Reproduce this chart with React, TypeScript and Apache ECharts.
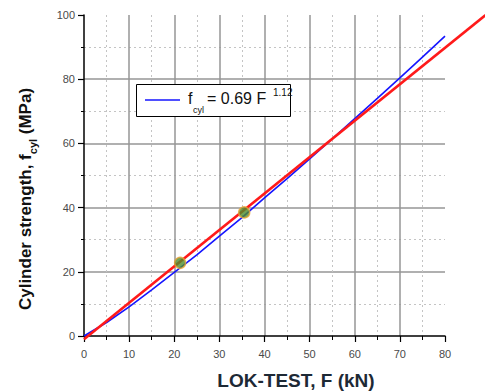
import React, { useEffect, useRef } from "react";
import * as echarts from "echarts";

// Power-law fit f_cyl = 0.69 F^1.12
const FIT_F = [0, 5, 10, 15, 20, 25, 30, 35, 40, 45, 50, 55, 60, 65, 70, 75, 80];
const FIT_FCYL = [0, 4.2, 9.1, 14.4, 19.8, 25.3, 31.1, 36.9, 43.0, 49.0, 55.2, 61.4, 67.7, 74.0, 80.4, 86.9, 93.4];

// Straight red reference line (runs past the right end of the x axis)
const LINE_F = [0, 89];
const LINE_FCYL = [-1, 100];

// Two test results
const TEST_F = [21.3, 35.5];
const TEST_FCYL = [22.8, 38.5];

const X_TICKS = { min: 0, max: 80, interval: 10 };
const Y_TICKS = { min: 0, max: 100, interval: 20 };

const FONT = "'Liberation Sans', Arial, sans-serif";

export default function App() {
  const ref = useRef<HTMLDivElement>(null);

  useEffect(() => {
    if (!ref.current) return;
    const chart = echarts.init(ref.current, undefined, { renderer: "svg" });

    const gridLine = { color: "#969696", width: 1.5 };
    const minorLine = { color: "#c4c4c4", width: 1, type: [2, 3] as number[] };

    chart.setOption({
      animation: false,
      backgroundColor: "#ffffff",
      grid: { left: 84, right: 40, top: 15, bottom: 56, containLabel: false },
      xAxis: {
        type: "value",
        min: X_TICKS.min,
        max: X_TICKS.max,
        interval: X_TICKS.interval,
        axisLine: { show: true, onZero: false, lineStyle: { color: "#000", width: 1.5 } },
        axisTick: { show: true, length: 6, lineStyle: { color: "#000", width: 1.2 } },
        minorTick: { show: true, splitNumber: 2, length: 4, lineStyle: { color: "#000", width: 1 } },
        axisLabel: { color: "#4a4a4a", fontSize: 11, fontFamily: FONT, margin: 12 },
        splitLine: { show: true, showMinLine: false, showMaxLine: false, lineStyle: gridLine },
        minorSplitLine: { show: true, lineStyle: minorLine },
      },
      yAxis: {
        type: "value",
        min: Y_TICKS.min,
        max: Y_TICKS.max,
        interval: Y_TICKS.interval,
        axisLine: { show: true, onZero: false, lineStyle: { color: "#000", width: 1.5 } },
        axisTick: { show: true, length: 6, lineStyle: { color: "#000", width: 1.2 } },
        minorTick: { show: true, splitNumber: 2, length: 3, lineStyle: { color: "#000", width: 1 } },
        axisLabel: { color: "#4a4a4a", fontSize: 11, fontFamily: FONT, margin: 9 },
        splitLine: { show: true, showMinLine: false, showMaxLine: false, lineStyle: gridLine },
        minorSplitLine: { show: true, lineStyle: minorLine },
      },
      series: [
        {
          name: "fit",
          type: "line",
          data: FIT_F.map((f, i) => [f, FIT_FCYL[i]]),
          showSymbol: false,
          symbol: "none",
          clip: false,
          lineStyle: { color: "#1515ff", width: 1.6 },
          z: 2,
        },
        {
          // drawn as a custom segment so it can run beyond the plot area
          name: "line",
          type: "custom",
          clip: false,
          data: [[LINE_F[0], LINE_FCYL[0], LINE_F[1], LINE_FCYL[1]]],
          encode: { x: [0, 2], y: [1, 3] },
          renderItem: (_params: any, api: any) => {
            const p1 = api.coord([api.value(0), api.value(1)]);
            const p2 = api.coord([api.value(2), api.value(3)]);
            return {
              type: "line",
              shape: { x1: p1[0], y1: p1[1], x2: p2[0], y2: p2[1] },
              style: { stroke: "#ff1a1a", lineWidth: 2.6, fill: "none" },
            };
          },
          z: 3,
        },
        {
          name: "tests",
          type: "scatter",
          data: TEST_F.map((f, i) => [f, TEST_FCYL[i]]),
          symbol: "circle",
          symbolSize: 11,
          itemStyle: { color: "#4e8c2c", borderColor: "#e6a335", borderWidth: 1.5 },
          z: 4,
        },
      ],
      graphic: [
        // legend box
        {
          type: "rect",
          shape: { x: 136.5, y: 84.5, width: 154, height: 32 },
          style: { fill: "#ffffff", stroke: "#000000", lineWidth: 1 },
          z: 10,
        },
        {
          type: "line",
          shape: { x1: 145, y1: 100, x2: 180, y2: 100 },
          style: { stroke: "#1515ff", lineWidth: 1.6 },
          z: 11,
        },
        {
          type: "text",
          x: 188,
          y: 98,
          style: { text: "f", font: `16px ${FONT}`, fill: "#111", verticalAlign: "middle" },
          z: 11,
        },
        {
          type: "text",
          x: 193,
          y: 110,
          style: { text: "cyl", font: `9px ${FONT}`, fill: "#111", verticalAlign: "middle" },
          z: 11,
        },
        {
          type: "text",
          x: 207,
          y: 98,
          style: { text: "= 0.69 F", font: `16px ${FONT}`, fill: "#111", verticalAlign: "middle" },
          z: 11,
        },
        {
          type: "text",
          x: 273,
          y: 92,
          style: { text: "1.12", font: `10px ${FONT}`, fill: "#111", verticalAlign: "middle" },
          z: 11,
        },
        // y axis title
        {
          type: "text",
          x: 26,
          y: 199,
          rotation: Math.PI / 2,
          style: {
            text: "{a|Cylinder strength, f}{b|cyl}{a| (MPa)}",
            align: "center",
            verticalAlign: "middle",
            rich: {
              a: { font: `bold 17px ${FONT}`, fill: "#111", lineHeight: 19, verticalAlign: "top" },
              b: {
                font: `bold 11px ${FONT}`,
                fill: "#111",
                lineHeight: 11,
                verticalAlign: "top",
                padding: [11, 0, 0, 0],
              },
            },
          },
        },
        // x axis title
        {
          type: "text",
          x: 296,
          y: 380,
          style: {
            text: "LOK-TEST, F (kN)",
            font: `bold 19px ${FONT}`,
            fill: "#1d2935",
            align: "center",
            verticalAlign: "middle",
          },
        },
      ],
    });

    return () => chart.dispose();
  }, []);

  return (
    <div
      ref={ref}
      style={{ position: "fixed", left: 0, top: 0, width: 485, height: 392 }}
    />
  );
}
